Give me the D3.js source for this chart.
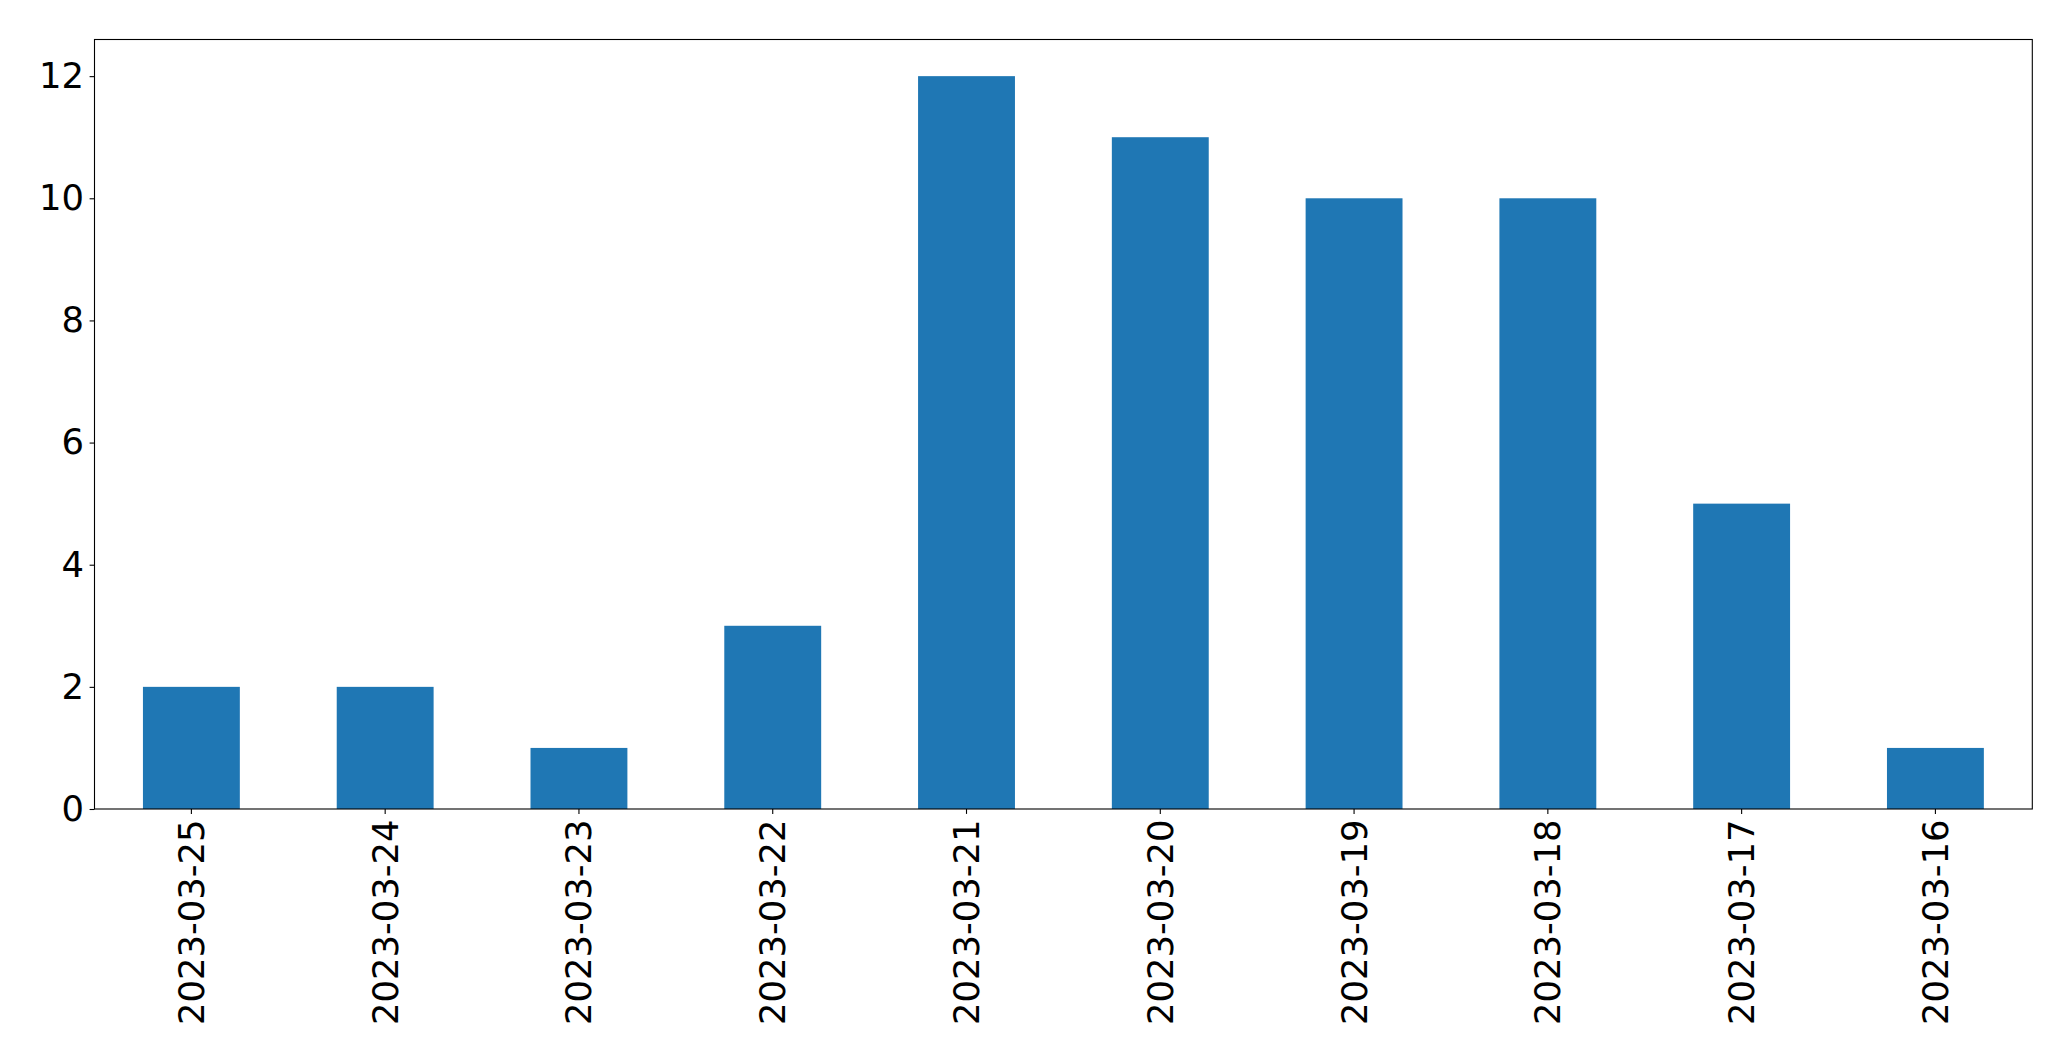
<!DOCTYPE html>
<html>
<head>
<meta charset="utf-8">
<script src="https://cdn.jsdelivr.net/npm/d3@7"></script>
<style>
  html, body { margin: 0; padding: 0; background: #fff; }
  text { font-family: "DejaVu Sans", sans-serif; }
</style>
</head>
<body>
<svg id="chart"></svg>
<script>
// counts per day, newest first (as in the picture)
const dates = ["2023-03-25", "2023-03-24", "2023-03-23", "2023-03-22", "2023-03-21",
               "2023-03-20", "2023-03-19", "2023-03-18", "2023-03-17", "2023-03-16"];
const counts = [2, 2, 1, 3, 12, 11, 10, 10, 5, 1];
const yTicks = [0, 2, 4, 6, 8, 10, 12];

function drawChart() {
    const canvasWidth = 2071;
    const canvasHeight = 1061;

    const svg = d3.select("#chart")
        .attr("width", canvasWidth)
        .attr("height", canvasHeight);

    const left = 94.5, right = 2032.3, top = 39.5, bottom = 809;
    const fontSize = 35.4;
    const tickLen = 4.9, tickPad = 5.5;

    const data = dates.map((d, i) => ({ date: d, count: counts[i] }));

    // bars take half of each band, like pandas' default width 0.5
    let x = d3.scaleBand()
        .domain(dates)
        .range([left, right])
        .paddingInner(0.5)
        .paddingOuter(0.25);

    let y = d3.scaleLinear()
        .domain([0, d3.max(counts) * 1.05])
        .range([bottom, top]);

    svg.selectAll("rect.bar")
        .data(data)
        .join("rect")
        .attr("class", "bar")
        .attr("x", d => x(d.date))
        .attr("y", d => y(d.count))
        .attr("width", x.bandwidth())
        .attr("height", d => y(0) - y(d.count))
        .attr("fill", "#1f77b4");

    // y axis
    const yAxis = svg.append("g")
        .attr("transform", `translate(${left},0)`)
        .call(d3.axisLeft(y).tickValues(yTicks).tickSize(tickLen).tickPadding(tickPad).tickFormat(d3.format("d")));
    yAxis.select(".domain").remove();
    yAxis.selectAll("line").attr("stroke", "#000").attr("stroke-width", 1.1);
    yAxis.selectAll("text")
        .attr("font-size", fontSize)
        .attr("font-family", "DejaVu Sans")
        .attr("fill", "#000");

    // x axis with rotated date labels
    const xAxis = svg.append("g")
        .attr("transform", `translate(0,${bottom})`)
        .call(d3.axisBottom(x).tickSize(tickLen).tickPadding(tickPad));
    xAxis.select(".domain").remove();
    xAxis.selectAll("line").attr("stroke", "#000").attr("stroke-width", 1.1);
    xAxis.selectAll("text")
        .attr("font-size", fontSize)
        .attr("font-family", "DejaVu Sans")
        .attr("fill", "#000")
        .attr("y", 0)
        .attr("dy", null)
        .attr("dominant-baseline", "central")
        .attr("text-anchor", "end")
        .attr("transform", `translate(0,${tickLen + tickPad}) rotate(-90)`);

    // frame around the plot
    svg.append("rect")
        .attr("x", left)
        .attr("y", top)
        .attr("width", right - left)
        .attr("height", bottom - top)
        .attr("fill", "none")
        .attr("stroke", "#000")
        .attr("stroke-width", 1.1);
}

drawChart();
</script>
</body>
</html>
